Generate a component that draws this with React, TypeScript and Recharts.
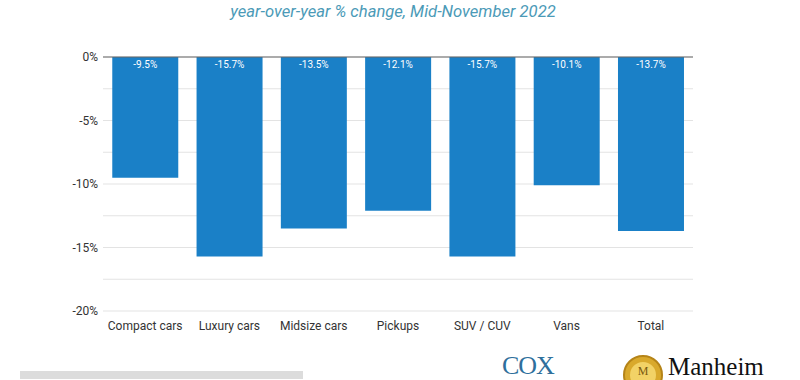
import React from "react";
import {
  BarChart,
  Bar,
  XAxis,
  YAxis,
  CartesianGrid,
  ReferenceLine,
  LabelList,
} from "recharts";

const segments = ["Compact cars", "Luxury cars", "Midsize cars", "Pickups", "SUV / CUV", "Vans", "Total"];
const yoyChange = [-9.5, -15.7, -13.5, -12.1, -15.7, -10.1, -13.7];
const yTicks = [0, -2.5, -5, -7.5, -10, -12.5, -15, -17.5, -20];

const data = segments.map((segment, i) => ({ segment, value: yoyChange[i] }));

const FONT = "Roboto, 'Liberation Sans', sans-serif";

const BarValueLabel = (props: any) => {
  const { x, y, width, height, value } = props;
  const top = Math.min(y, y + height);
  return (
    <text
      x={x + width / 2}
      y={top + 11}
      textAnchor="middle"
      fill="#ffffff"
      fontSize={10}
      fontFamily={FONT}
    >
      {`${Number(value).toFixed(1)}%`}
    </text>
  );
};

export default function App() {
  return (
    <div
      style={{
        position: "fixed",
        left: 0,
        top: 0,
        width: 800,
        height: 380,
        background: "#ffffff",
        overflow: "hidden",
        fontFamily: FONT,
      }}
    >
      <div
        style={{
          position: "absolute",
          left: 0,
          top: 2,
          width: 786,
          textAlign: "center",
          fontStyle: "italic",
          fontSize: 16.6,
          color: "#4b9ab7",
          lineHeight: "20px",
        }}
      >
        year-over-year % change, Mid-November 2022
      </div>
      <BarChart
        width={800}
        height={380}
        data={data}
        margin={{ top: 57, right: 107, bottom: 39, left: 0 }}
        barCategoryGap="11%"
      >
        <CartesianGrid vertical={false} stroke="#e3e3e3" />
        <XAxis
          dataKey="segment"
          height={30}
          axisLine={false}
          tickLine={false}
          tickMargin={4}
          tick={{ fill: "#333", fontSize: 12, fontFamily: FONT }}
          interval={0}
        />
        <YAxis
          width={103}
          domain={[-20, 0]}
          ticks={yTicks}
          axisLine={false}
          tickLine={false}
          tickSize={3}
          tickMargin={2}
          tickFormatter={(v: number) => (v % 5 === 0 ? `${v}%` : "")}
          tick={{ fill: "#333", fontSize: 12, fontFamily: FONT }}
        />
        <Bar dataKey="value" fill="#1a80c7" isAnimationActive={false}>
          <LabelList dataKey="value" content={BarValueLabel} />
        </Bar>
        <ReferenceLine y={0} stroke="#666" strokeWidth={1.2} />
      </BarChart>
      <div
        style={{
          position: "absolute",
          left: 20,
          top: 371,
          width: 283,
          height: 8,
          background: "#dcdcdc",
        }}
      />
      <div
        style={{
          position: "absolute",
          left: 502,
          top: 353,
          fontFamily: "'Liberation Serif', serif",
          fontSize: 26,
          color: "#2f6f9c",
          letterSpacing: -1,
          lineHeight: "26px",
        }}
      >
        COX
      </div>
      <svg style={{ position: "absolute", left: 622, top: 354 }} width={44} height={26}>
        <circle cx={21} cy={21} r={19} fill="#d9a92c" stroke="#b58418" strokeWidth={2} />
        <circle cx={21} cy={21} r={13} fill="#f2d266" />
        <text x={21} y={21} textAnchor="middle" fontFamily="'Liberation Serif', serif" fontSize={12} fill="#7a5a10">
          M
        </text>
      </svg>
      <div
        style={{
          position: "absolute",
          left: 668,
          top: 354,
          fontFamily: "'Liberation Serif', serif",
          fontSize: 25,
          color: "#111",
          lineHeight: "25px",
        }}
      >
        Manheim
      </div>
    </div>
  );
}
